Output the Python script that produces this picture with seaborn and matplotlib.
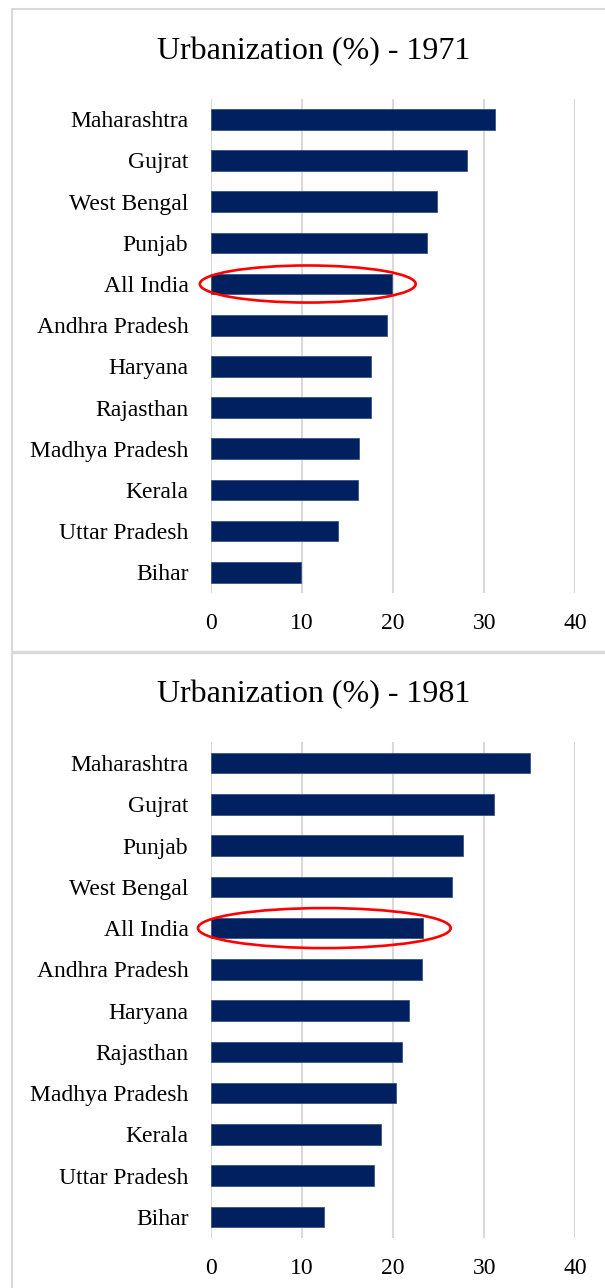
import matplotlib
matplotlib.use("Agg")
import matplotlib.pyplot as plt
import seaborn as sns
import pandas as pd
from matplotlib.patches import Ellipse
from matplotlib.lines import Line2D

states = ["Maharashtra", "Gujrat", "West Bengal", "Punjab", "All India",
          "Andhra Pradesh", "Haryana", "Rajasthan", "Madhya Pradesh",
          "Kerala", "Uttar Pradesh", "Bihar"]
urban_1971 = [31.2, 28.1, 24.8, 23.7, 19.9, 19.3, 17.6, 17.6, 16.3, 16.2, 14.0, 9.9]

states_1981 = ["Maharashtra", "Gujrat", "Punjab", "West Bengal", "All India",
               "Andhra Pradesh", "Haryana", "Rajasthan", "Madhya Pradesh",
               "Kerala", "Uttar Pradesh", "Bihar"]
urban_1981 = [35.0, 31.1, 27.7, 26.5, 23.3, 23.2, 21.8, 21.0, 20.3, 18.7, 17.9, 12.4]

titles = ["Urbanization (%) - 1971", "Urbanization (%) - 1981"]
x_ticks = [0, 10, 20, 30, 40]
highlight = "All India"

sns.set_theme(style="white")
plt.rcParams["font.family"] = ["Liberation Serif", "DejaVu Serif"]

W, H = 605, 1288
fig = plt.figure(figsize=(W / 100, H / 100), dpi=100)

def fx(px):
    return px / W

def fy(py):
    return 1 - py / H

panels = [
    dict(cats=states, vals=urban_1971, title=titles[0], top=98.7, bottom=592.9,
         title_y=59.5, ell_h=0.90),
    dict(cats=states_1981, vals=urban_1981, title=titles[1], top=742.4, bottom=1237.6,
         title_y=702.5, ell_h=0.97),
]

x_left, x_right = 210.7, 575.3
bar_color = "#002060"
grid_color = "#d9d9d9"

for p in panels:
    ax = fig.add_axes([fx(x_left), fy(p["bottom"]), fx(x_right) - fx(x_left),
                       (p["bottom"] - p["top"]) / H])
    df = pd.DataFrame({"state": p["cats"], "value": p["vals"]})
    sns.barplot(data=df, x="value", y="state", orient="h", color=bar_color,
                saturation=1, width=0.5, edgecolor="#3a5282", linewidth=0.6,
                ax=ax, zorder=3)
    ax.set_xlim(x_ticks[0], x_ticks[-1])
    ax.set_ylim(len(p["cats"]) - 0.5, -0.5)
    ax.set_xticks(x_ticks)
    ax.set_xticklabels([str(t) for t in x_ticks])
    ax.set_xlabel("")
    ax.set_ylabel("")
    for s in ax.spines.values():
        s.set_visible(False)
    ax.grid(axis="x", color=grid_color, linewidth=1.5, zorder=0)
    ax.grid(axis="y", visible=False)
    ax.set_axisbelow(True)
    ax.tick_params(axis="y", labelsize=17, length=0, pad=16, labelcolor="#000000")
    ax.tick_params(axis="x", labelsize=17, length=0, pad=14.5, labelcolor="#000000")

    idx = p["cats"].index(highlight)
    v = p["vals"][idx]
    ell = Ellipse((v * 0.535, idx), width=v * 1.19, height=p["ell_h"],
                  fill=False, edgecolor="#ff0000", linewidth=1.9, zorder=5,
                  clip_on=False)
    ax.add_patch(ell)

    fig.text(fx(314), fy(p["title_y"]), p["title"], ha="center", va="baseline",
             fontsize=23, color="#000000")

# panel borders
border = "#d9d9d9"
fig.add_artist(Line2D([fx(12), fx(12)], [fy(9), fy(H + 5)], color=border,
                      linewidth=1.5, transform=fig.transFigure))
fig.add_artist(Line2D([fx(12), fx(W + 5)], [fy(9), fy(9)], color=border,
                      linewidth=1.5, transform=fig.transFigure))
fig.add_artist(Line2D([fx(12), fx(W + 5)], [fy(651.5), fy(651.5)], color=border,
                      linewidth=2.4, transform=fig.transFigure))

fig.savefig("out.png", dpi=100, facecolor="white")
